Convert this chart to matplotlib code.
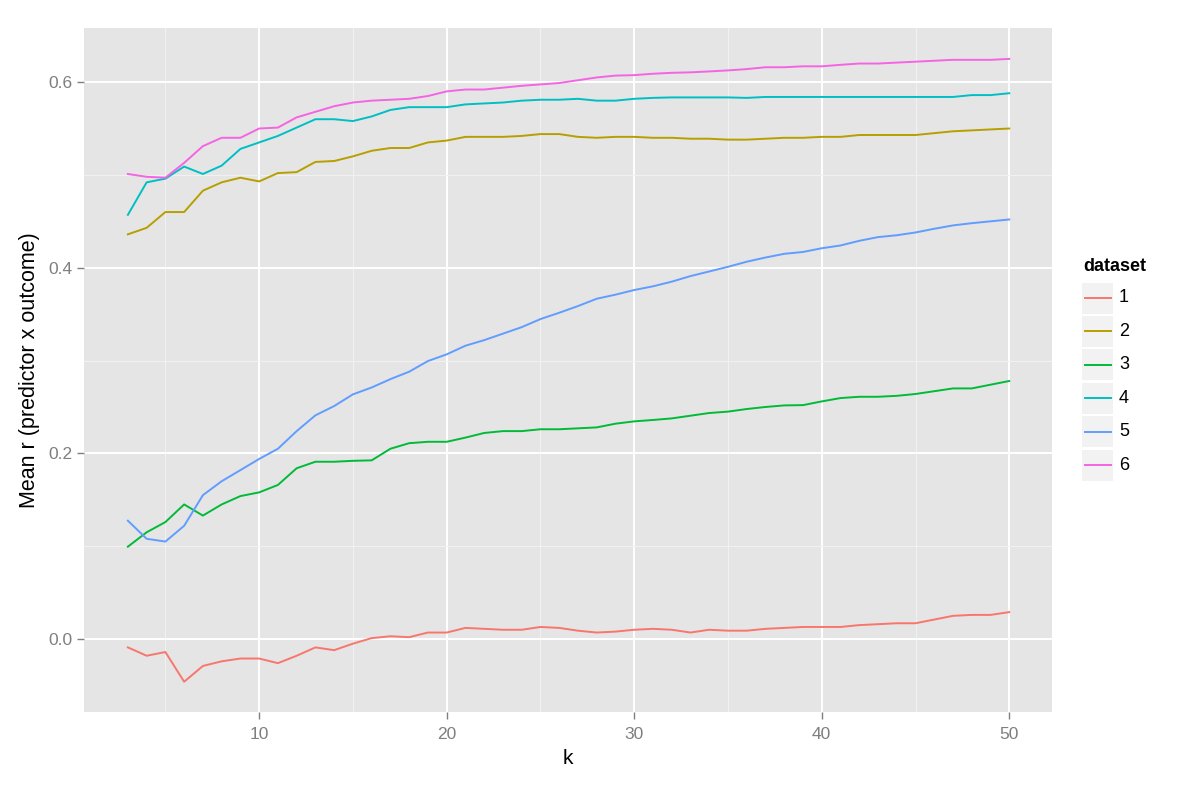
import matplotlib
matplotlib.use("Agg")
import matplotlib.pyplot as plt
from matplotlib.patches import Rectangle
from matplotlib.lines import Line2D

plt.rcParams['font.family'] = ['Liberation Sans', 'DejaVu Sans']

k = list(range(3, 51))

ds1 = [-0.009, -0.018, -0.014, -0.046, -0.029, -0.024, -0.021, -0.021, -0.026, -0.018,
       -0.009, -0.012, -0.005, 0.001, 0.003, 0.002, 0.007, 0.007, 0.012, 0.011,
       0.010, 0.010, 0.013, 0.012, 0.009, 0.007, 0.008, 0.010, 0.011, 0.010,
       0.007, 0.010, 0.009, 0.009, 0.011, 0.012, 0.013, 0.013, 0.013, 0.015,
       0.016, 0.017, 0.017, 0.021, 0.025, 0.026, 0.026, 0.029]
ds2 = [0.436, 0.443, 0.460, 0.460, 0.483, 0.492, 0.497, 0.493, 0.502, 0.503,
       0.514, 0.515, 0.520, 0.526, 0.529, 0.529, 0.535, 0.537, 0.541, 0.541,
       0.541, 0.542, 0.544, 0.544, 0.541, 0.540, 0.541, 0.541, 0.540, 0.540,
       0.539, 0.539, 0.538, 0.538, 0.539, 0.540, 0.540, 0.541, 0.541, 0.543,
       0.543, 0.543, 0.543, 0.545, 0.547, 0.548, 0.549, 0.550]
ds3 = [0.0995, 0.115, 0.126, 0.145, 0.133, 0.145, 0.154, 0.158, 0.166, 0.184,
       0.191, 0.191, 0.192, 0.1925, 0.205, 0.211, 0.2125, 0.2125, 0.217, 0.222,
       0.224, 0.224, 0.226, 0.226, 0.227, 0.228, 0.232, 0.2345, 0.236, 0.2377,
       0.2406, 0.2435, 0.245, 0.2478, 0.250, 0.2517, 0.252, 0.256, 0.2596, 0.261,
       0.261, 0.262, 0.264, 0.267, 0.270, 0.270, 0.274, 0.278]
ds4 = [0.457, 0.492, 0.496, 0.509, 0.501, 0.510, 0.528, 0.535, 0.542, 0.551,
       0.560, 0.560, 0.558, 0.563, 0.570, 0.573, 0.573, 0.573, 0.576, 0.577,
       0.578, 0.580, 0.581, 0.581, 0.582, 0.580, 0.580, 0.582, 0.583, 0.5835,
       0.5835, 0.5835, 0.5835, 0.583, 0.584, 0.584, 0.584, 0.584, 0.584, 0.584,
       0.584, 0.584, 0.584, 0.584, 0.584, 0.586, 0.586, 0.588]
ds5 = [0.1275, 0.108, 0.105, 0.122, 0.155, 0.170, 0.182, 0.194, 0.205, 0.224,
       0.241, 0.251, 0.2636, 0.271, 0.280, 0.288, 0.2995, 0.3067, 0.316, 0.322,
       0.329, 0.336, 0.3447, 0.3515, 0.3587, 0.3666, 0.371, 0.376, 0.380, 0.385,
       0.391, 0.396, 0.401, 0.4065, 0.411, 0.415, 0.417, 0.421, 0.424, 0.429,
       0.433, 0.435, 0.438, 0.442, 0.4456, 0.448, 0.450, 0.452]
ds6 = [0.501, 0.498, 0.497, 0.513, 0.531, 0.540, 0.540, 0.550, 0.551, 0.562,
       0.568, 0.574, 0.578, 0.580, 0.581, 0.582, 0.585, 0.590, 0.592, 0.592,
       0.594, 0.596, 0.5975, 0.599, 0.602, 0.605, 0.607, 0.6075, 0.609, 0.610,
       0.6105, 0.6115, 0.6126, 0.614, 0.616, 0.616, 0.617, 0.617, 0.6186, 0.620,
       0.620, 0.621, 0.622, 0.623, 0.624, 0.624, 0.624, 0.625]

series = [ds1, ds2, ds3, ds4, ds5, ds6]
labels = ['1', '2', '3', '4', '5', '6']
colors = ['#F8766D', '#B79F00', '#00BA38', '#00BFC4', '#619CFF', '#F564E3']

fig = plt.figure(figsize=(12, 7.85), dpi=100)
ax = fig.add_axes([0.07, 0.093, 0.807, 0.871])
ax.set_facecolor('#E5E5E5')
for s in ax.spines.values():
    s.set_visible(False)

ax.set_xlim(0.66, 52.3)
ax.set_ylim(-0.0786, 0.658)
ax.set_xticks([10, 20, 30, 40, 50])
ax.set_yticks([0.0, 0.2, 0.4, 0.6])
ax.set_yticklabels(['0.0', '0.2', '0.4', '0.6'])
ax.set_xticks([5, 15, 25, 35, 45], minor=True)
ax.set_yticks([0.1, 0.3, 0.5], minor=True)
ax.grid(which='major', color='white', lw=1.4)
ax.grid(which='minor', color='#F2F2F2', lw=0.7)
ax.set_axisbelow(True)
ax.tick_params(which='major', length=5, width=1, color='#7F7F7F',
               labelcolor='#7F7F7F', labelsize=12.5, pad=3)
ax.tick_params(axis='x', which='major', pad=6)
ax.tick_params(which='minor', length=0)

for y, c in zip(series, colors):
    ax.plot(k, y, color=c, lw=1.4)

ax.set_xlabel('k', fontsize=15, labelpad=5)
ax.set_ylabel('Mean r (predictor x outcome)', fontsize=15.5, labelpad=6)

# legend drawn like ggplot's key boxes
W, H = 1200, 785
fig.text(1083 / W, 1 - 267 / H, 'dataset', fontsize=13, fontweight='bold',
         va='center', ha='left')
for i, (lab, c) in enumerate(zip(labels, colors)):
    top = 282.5 + i * 33.4
    fig.patches.append(Rectangle((1082 / W, 1 - (top + 31) / H), 31 / W, 31 / H,
                                 transform=fig.transFigure, facecolor='#F2F2F2',
                                 edgecolor='none'))
    yc = 1 - (top + 15.5) / H
    fig.lines.append(Line2D([1085 / W, 1111 / W], [yc, yc], transform=fig.transFigure,
                            color=c, lw=1.4))
    fig.text(1119 / W, yc, lab, fontsize=13, va='center', ha='left')

fig.savefig('out.png', dpi=100)
